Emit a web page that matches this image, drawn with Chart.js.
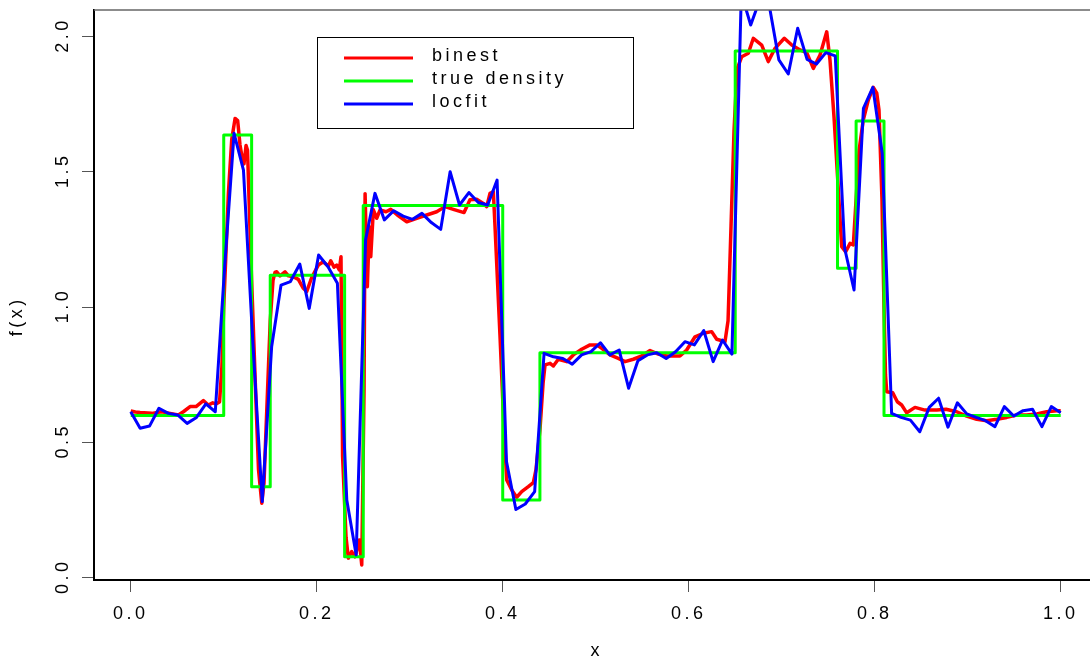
<!DOCTYPE html>
<html>
<head>
<meta charset="utf-8">
<script src="https://cdn.jsdelivr.net/npm/chart.js@4"></script>
<style>
  html, body { margin: 0; padding: 0; background: #fff; overflow: hidden; }
  #plot { display: block; }
</style>
</head>
<body>
<canvas id="plot" width="1090" height="665"></canvas>
<script>
// true density: level held from each break up to the next one
const trueBreaks = [0, 0.10, 0.13, 0.15, 0.23, 0.25, 0.40, 0.44, 0.65, 0.76, 0.78, 0.81, 1.0];
const trueLevels = [0.600, 1.637, 0.337, 1.118, 0.078, 1.376, 0.288, 0.832, 1.947, 1.144, 1.688, 0.600, 0.600];

// binned estimate
const binestX = [
  0.000, 0.005, 0.010, 0.0226, 0.0333, 0.0423, 0.0512, 0.0566, 0.0638, 0.0702,
  0.0781, 0.0834, 0.0882, 0.0917, 0.0955, 0.0980, 0.1000, 0.1050, 0.1086, 0.1122,
  0.1150, 0.1175, 0.1200, 0.1218, 0.1240, 0.1256, 0.1272, 0.1300, 0.1350, 0.1374,
  0.1409, 0.1433, 0.1455, 0.1500, 0.1530, 0.1552, 0.1570, 0.1605, 0.1659, 0.1695,
  0.1748, 0.1802, 0.1856, 0.1892, 0.1946, 0.2017, 0.2071, 0.2125, 0.2151, 0.2186,
  0.2215, 0.2243, 0.2261, 0.2278, 0.2315, 0.2340, 0.2376, 0.2412, 0.2458, 0.2484,
  0.2509, 0.2520, 0.2544, 0.2566, 0.2581, 0.2609, 0.2645, 0.2681, 0.2745, 0.2796,
  0.2867, 0.2968, 0.3075, 0.3183, 0.3290, 0.3380, 0.3469, 0.3584, 0.3648, 0.3720,
  0.3791, 0.3828, 0.3863, 0.3899, 0.3917, 0.3970, 0.4014, 0.4043, 0.4097, 0.4150,
  0.4204, 0.4275, 0.4329, 0.4358, 0.4401, 0.4434, 0.4455, 0.4509, 0.4544, 0.4598,
  0.4688, 0.4759, 0.4849, 0.4939, 0.5011, 0.5065, 0.5154, 0.5243, 0.5315, 0.5404,
  0.5495, 0.5584, 0.5673, 0.5763, 0.5906, 0.5978, 0.6068, 0.6157, 0.6247, 0.6301,
  0.6390, 0.6423, 0.6455, 0.6487, 0.6520, 0.6570, 0.6641, 0.6695, 0.6785, 0.6856,
  0.6928, 0.7028, 0.7108, 0.7197, 0.7269, 0.7340, 0.7412, 0.7484, 0.7519, 0.7563,
  0.7606, 0.7645, 0.7688, 0.7735, 0.7770, 0.7800, 0.7832, 0.7877, 0.7931, 0.7985,
  0.8022, 0.8046, 0.8078, 0.8100, 0.8116, 0.8129, 0.8194, 0.8243, 0.8290, 0.8344,
  0.8433, 0.8541, 0.8667, 0.8767, 0.8882, 0.8989, 0.9097, 0.9204, 0.9312, 0.9419,
  0.9527, 0.9634, 0.9742, 0.9849, 0.9957, 1.0000
];
const binestY = [
  0.617, 0.613, 0.611, 0.608, 0.614, 0.608, 0.602, 0.614, 0.633, 0.633,
  0.655, 0.639, 0.647, 0.643, 0.650, 0.780, 1.000, 1.420, 1.620, 1.698,
  1.690, 1.600, 1.550, 1.530, 1.598, 1.580, 1.400, 1.100, 0.620, 0.400,
  0.276, 0.350, 0.550, 0.950, 1.100, 1.130, 1.131, 1.116, 1.131, 1.116,
  1.113, 1.103, 1.070, 1.058, 1.110, 1.156, 1.168, 1.152, 1.172, 1.148,
  1.156, 1.138, 1.187, 0.450, 0.150, 0.073, 0.097, 0.078, 0.140, 0.048,
  0.700, 1.420, 1.076, 1.298, 1.187, 1.360, 1.329, 1.360, 1.353, 1.362,
  1.341, 1.316, 1.329, 1.341, 1.353, 1.372, 1.362, 1.350, 1.397, 1.399,
  1.384, 1.372, 1.421, 1.427, 1.300, 0.900, 0.550, 0.362, 0.325, 0.298,
  0.319, 0.337, 0.352, 0.400, 0.550, 0.720, 0.787, 0.793, 0.783, 0.808,
  0.799, 0.824, 0.845, 0.861, 0.861, 0.848, 0.824, 0.811, 0.799, 0.808,
  0.820, 0.840, 0.827, 0.820, 0.820, 0.842, 0.891, 0.904, 0.910, 0.882,
  0.873, 0.950, 1.300, 1.650, 1.880, 1.926, 1.939, 1.994, 1.969, 1.908,
  1.957, 1.994, 1.969, 1.951, 1.941, 1.883, 1.932, 2.018, 1.914, 1.700,
  1.450, 1.224, 1.205, 1.236, 1.230, 1.400, 1.580, 1.692, 1.766, 1.813,
  1.791, 1.729, 1.400, 1.000, 0.750, 0.688, 0.684, 0.651, 0.639, 0.610,
  0.630, 0.620, 0.620, 0.623, 0.614, 0.598, 0.586, 0.581, 0.586, 0.593,
  0.602, 0.602, 0.606, 0.614, 0.618, 0.618
];

// locfit, evaluated at 100 equally spaced points on [0, 1]
const locfitY = [
  0.614, 0.553, 0.561, 0.627, 0.608, 0.602, 0.571, 0.593, 0.643, 0.614,
  1.150, 1.643, 1.507, 0.870, 0.282, 0.854, 1.082, 1.095, 1.160, 0.996,
  1.193, 1.150, 1.089, 0.288, 0.085, 1.249, 1.421, 1.323, 1.357, 1.337,
  1.325, 1.347, 1.313, 1.288, 1.501, 1.378, 1.424, 1.387, 1.378, 1.470,
  0.430, 0.253, 0.273, 0.319, 0.830, 0.817, 0.811, 0.790, 0.824, 0.836,
  0.869, 0.824, 0.842, 0.701, 0.803, 0.824, 0.832, 0.811, 0.836, 0.873,
  0.861, 0.914, 0.799, 0.879, 0.827, 2.160, 2.043, 2.140, 2.110, 1.914,
  1.862, 2.031, 1.916, 1.899, 1.941, 1.929, 1.218, 1.064, 1.735, 1.813,
  1.569, 0.608, 0.593, 0.583, 0.540, 0.630, 0.664, 0.557, 0.647, 0.606,
  0.593, 0.581, 0.559, 0.633, 0.598, 0.618, 0.623, 0.559, 0.633, 0.610
];
const locfitX = locfitY.map((v, i) => i / (locfitY.length - 1));

const xTicks = [0, 0.2, 0.4, 0.6, 0.8, 1.0];
const yTicks = [0, 0.5, 1.0, 1.5, 2.0];
const seriesNames = ['binest', 'true density', 'locfit'];
const seriesColors = ['#ff0000', '#00ff00', '#0000ff'];

const FONT = '"Liberation Sans", Arial, sans-serif';
const SPACING = 3.5;

function pairs(xs, ys) {
  return xs.map((x, i) => ({ x: x, y: ys[i] }));
}

// box edge, rotated y labels, axis titles and the legend
const frame = {
  id: 'frame',
  beforeDraw(chart) {
    chart.ctx.letterSpacing = SPACING + 'px';
  },
  afterDraw(chart) {
    const ctx = chart.ctx;
    const a = chart.chartArea;
    const y = chart.scales.y;
    ctx.save();
    ctx.letterSpacing = SPACING + 'px';

    // top edge of the plot box
    ctx.strokeStyle = '#666';
    ctx.lineWidth = 1.5;
    ctx.beginPath();
    ctx.moveTo(a.left, 10);
    ctx.lineTo(a.right, 10);
    ctx.stroke();

    ctx.fillStyle = '#000';
    ctx.font = '18px ' + FONT;
    ctx.textAlign = 'center';
    ctx.textBaseline = 'middle';

    // y tick labels read upwards
    yTicks.forEach(function (v) {
      ctx.save();
      ctx.translate(63, y.getPixelForValue(v));
      ctx.rotate(-Math.PI / 2);
      ctx.fillText(v.toFixed(1), SPACING / 2, 0);
      ctx.restore();
    });

    ctx.save();
    ctx.translate(17, 318);
    ctx.rotate(-Math.PI / 2);
    ctx.fillText('f(x)', SPACING / 2, 0);
    ctx.restore();

    ctx.fillText('x', 595 + SPACING / 2, 651);

    // legend
    ctx.strokeStyle = '#000';
    ctx.lineWidth = 1;
    ctx.strokeRect(317.5, 37.5, 316, 91);
    ctx.textAlign = 'left';
    seriesNames.forEach(function (name, i) {
      const ly = 58 + i * 23;
      ctx.strokeStyle = seriesColors[i];
      ctx.lineWidth = 3;
      ctx.beginPath();
      ctx.moveTo(344, ly);
      ctx.lineTo(413, ly);
      ctx.stroke();
      ctx.fillText(name, 432, ly - 2);
    });
    ctx.restore();
  }
};

const axisGrid = { drawOnChartArea: false, drawTicks: true, tickLength: 12, color: '#555', lineWidth: 1 };
const axisBorder = { display: true, color: '#000', width: 2 };

new Chart(document.getElementById('plot'), {
  type: 'line',
  data: {
    datasets: [
      { label: seriesNames[0], data: pairs(binestX, binestY), borderColor: seriesColors[0], borderWidth: 3.5, order: 3, clip: 0 },
      { label: seriesNames[1], data: pairs(trueBreaks, trueLevels), borderColor: seriesColors[1], borderWidth: 3, stepped: true, order: 2, clip: 0 },
      { label: seriesNames[2], data: pairs(locfitX, locfitY), borderColor: seriesColors[2], borderWidth: 3, order: 1, clip: 0 }
    ]
  },
  options: {
    responsive: false,
    animation: false,
    events: [],
    elements: {
      point: { radius: 0 },
      line: { tension: 0, borderJoinStyle: 'round', borderCapStyle: 'butt' }
    },
    layout: { padding: { top: 10, right: 0, bottom: 0, left: 0 } },
    plugins: { legend: { display: false }, tooltip: { enabled: false } },
    scales: {
      x: {
        type: 'linear',
        min: -0.0395,
        max: 1.0315,
        afterBuildTicks: function (s) { s.ticks = xTicks.map(function (v) { return { value: v }; }); },
        afterFit: function (s) { s.height = 85; },
        grid: axisGrid,
        border: axisBorder,
        ticks: {
          padding: 11,
          color: '#000',
          autoSkip: false,
          maxRotation: 0,
          font: { family: FONT, size: 18 },
          callback: function (v) { return Number(v).toFixed(1); }
        }
      },
      y: {
        type: 'linear',
        min: -0.0078,
        max: 2.0986,
        afterBuildTicks: function (s) { s.ticks = yTicks.map(function (v) { return { value: v }; }); },
        afterFit: function (s) { s.width = 94; },
        grid: axisGrid,
        border: axisBorder,
        ticks: { display: false }
      }
    }
  },
  plugins: [frame]
});
</script>
</body>
</html>
